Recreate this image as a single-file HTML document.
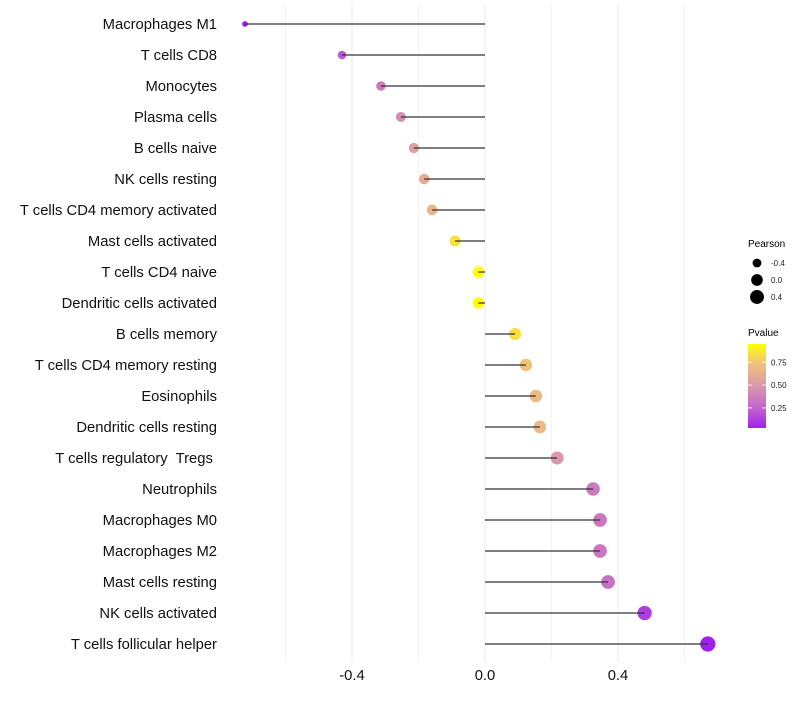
<!DOCTYPE html>
<html><head><meta charset="utf-8"><style>
body{margin:0;background:#fff;font-family:"Liberation Sans",sans-serif}
svg text{font-family:"Liberation Sans",sans-serif;white-space:pre}
</style></head><body>
<svg id="chart" width="800" height="700" xmlns="http://www.w3.org/2000/svg">
<g id="grid"></g><g id="marks"></g><g id="ylabels"></g><g id="xlabels"></g>
<g id="legend">
<text x="748" y="247" font-size="10">Pearson</text>
<g id="sizeLegend"></g>
<text x="748" y="336" font-size="10">Pvalue</text>
<defs><linearGradient id="pg" x1="0" y1="1" x2="0" y2="0">
<stop offset="0" stop-color="#a020f0"/><stop offset="0.22" stop-color="#c060d0"/><stop offset="0.5" stop-color="#da98aa"/><stop offset="0.78" stop-color="#f2c478"/><stop offset="1" stop-color="#ffff00"/></linearGradient></defs>
<rect x="748" y="344" width="18" height="84" fill="url(#pg)"/>
<g id="cbTicks"></g>
</g>
</svg>
<script>
const categories=["Macrophages M1","T cells CD8","Monocytes","Plasma cells","B cells naive","NK cells resting","T cells CD4 memory activated","Mast cells activated","T cells CD4 naive","Dendritic cells activated","B cells memory","T cells CD4 memory resting","Eosinophils","Dendritic cells resting","T cells regulatory  Tregs ","Neutrophils","Macrophages M0","Macrophages M2","Mast cells resting","NK cells activated","T cells follicular helper"];
const pearson=[-0.722,-0.43,-0.313,-0.253,-0.214,-0.183,-0.159,-0.09,-0.02,-0.02,0.09,0.123,0.153,0.165,0.217,0.325,0.346,0.346,0.37,0.48,0.67];
const pvalue=[0.03,0.2,0.35,0.45,0.55,0.62,0.68,0.85,0.95,0.95,0.85,0.75,0.7,0.7,0.5,0.35,0.33,0.33,0.3,0.12,0.03];
const xTicks=[-0.4,0.0,0.4];
const xTickLabels=["-0.4","0.0","0.4"];
const xMinor=[-0.6,-0.2,0.2,0.6];
const sizeLegendVals=[-0.4,0.0,0.4];
const cbTickVals=[0.25,0.5,0.75];

const NS="http://www.w3.org/2000/svg";
function X(v){return 485+v*332.5;}
function Y(i){return 24+i*31;}
function R(v){return Math.sqrt(Math.max(2.5,34+36*v));}
const stops=[[0.03,[160,32,240]],[0.22,[192,96,208]],[0.5,[218,152,170]],[0.76,[242,196,120]],[0.95,[255,255,0]]];
function col(p){
  if(p<=stops[0][0])return "rgb("+stops[0][1]+")";
  for(let k=1;k<stops.length;k++){if(p<=stops[k][0]){const a=stops[k-1],b=stops[k],t=(p-a[0])/(b[0]-a[0]);
    return "rgb("+a[1].map((c,j)=>Math.round(c+(b[1][j]-c)*t)).join(",")+")";}}
  return "rgb("+stops[stops.length-1][1]+")";
}
function el(tag,attrs,parent){const e=document.createElementNS(NS,tag);for(const k in attrs)e.setAttribute(k,attrs[k]);parent.appendChild(e);return e;}
const grid=document.getElementById("grid"),marks=document.getElementById("marks"),yl=document.getElementById("ylabels"),xl=document.getElementById("xlabels");
xMinor.forEach(v=>{const l=el("line",{x1:X(v),x2:X(v),y1:5,y2:662,stroke:"#f3f3f3","stroke-width":1},grid);

});
xTicks.forEach((v,i)=>{const l=el("line",{x1:X(v),x2:X(v),y1:5,y2:662,stroke:"#ebebeb","stroke-width":1},grid);


const t=el("text",{x:X(v),y:680,"font-size":14.8,"text-anchor":"middle",fill:"#111"},xl);t.textContent=xTickLabels[i];

});
categories.forEach((c,i)=>{
  const y=Y(i);
  const d=el("circle",{cx:X(pearson[i]),cy:y,r:R(pearson[i]),fill:col(pvalue[i])},marks);
  
  
  const l=el("line",{x1:X(0),x2:X(pearson[i]),y1:y,y2:y,stroke:"#333","stroke-width":1.2},marks);
  
  
  const t=el("text",{x:217,y:y+5,"font-size":14.8,"text-anchor":"end",fill:"#111"},yl);t.textContent=c;
  
  
});
const sl=document.getElementById("sizeLegend");
sizeLegendVals.forEach((v,i)=>{const y=263+i*17;
  const c=el("circle",{cx:757,cy:y,r:R(v),fill:"#000"},sl);
  
  
  const t=el("text",{x:771,y:y+3,"font-size":8,fill:"#1a1a1a"},sl);t.textContent=v.toFixed(1);
  
  });
const cb=document.getElementById("cbTicks");
cbTickVals.forEach(v=>{const y=428-(v-0.03)/(0.95-0.03)*84;
  const t=el("text",{x:771,y:y+3,"font-size":8,fill:"#1a1a1a"},cb);t.textContent=v.toFixed(2);
  
  
  const l=el("line",{x1:748,x2:752,y1:y,y2:y,stroke:"#fff","stroke-width":0.8},cb);
  
  
  const l2=el("line",{x1:762,x2:766,y1:y,y2:y,stroke:"#fff","stroke-width":0.8},cb);
  
  });
</script>
</body></html>
